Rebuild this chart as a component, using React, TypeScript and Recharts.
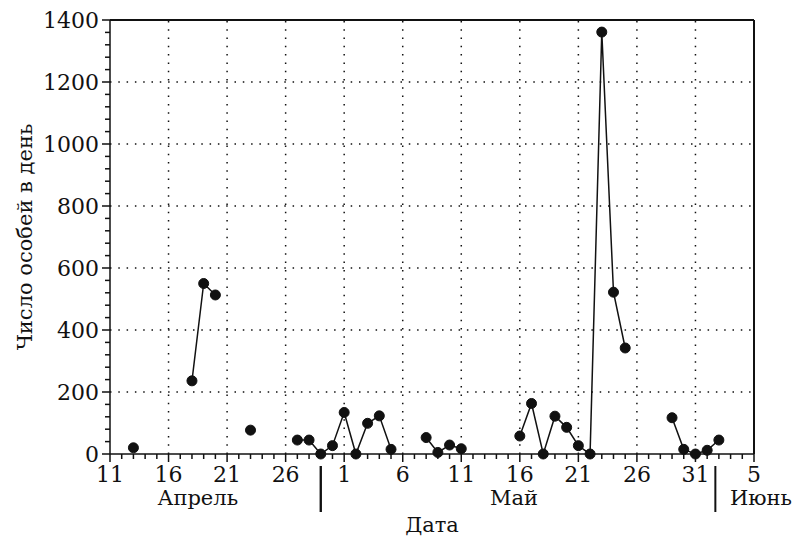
import { LineChart, Line, XAxis, YAxis, ReferenceLine } from 'recharts';

// day index counts from 11 April (0) to 5 June (55)
const obsDay = [2, 7, 8, 9, 12, 16, 17, 18, 19, 20, 21, 22, 23, 24, 27, 28, 29, 30, 35, 36, 37, 38, 39, 40, 41, 42, 43, 44, 48, 49, 50, 51, 52];
const obsCount = [20, 236, 550, 513, 77, 45, 45, 0, 27, 134, 0, 99, 123, 15, 53, 5, 29, 17, 58, 163, 0, 122, 86, 27, 0, 1361, 522, 342, 117, 15, 0, 12, 45];

const lastDay = 55;
const majorDays = [0, 5, 10, 15, 20, 25, 30, 35, 40, 45, 50, 55];
const majorLabels = ['11', '16', '21', '26', '1', '6', '11', '16', '21', '26', '31', '5'];
const gridDays = [5, 10, 15, 20, 25, 30, 35, 40, 45, 50];

const monthAt = [7.5, 34.5, 55.6];
const monthNames = ['Апрель', 'Май', 'Июнь'];
const separatorAt = [18, 51.7];

const yMajor = [0, 200, 400, 600, 800, 1000, 1200, 1400];
const yGrid = [200, 400, 600, 800, 1000, 1200];
const yStep = 40;

const allDays = Array.from({ length: lastDay + 1 }, (_, i) => i);
const data = allDays.map((d) => {
  const k = obsDay.indexOf(d);
  return { day: d, count: k >= 0 ? obsCount[k] : null };
});

const xTicks = [...allDays, ...separatorAt, ...monthAt];
const yTicks = Array.from({ length: 1400 / yStep + 1 }, (_, i) => i * yStep);

const FONT = 'DejaVu Serif';
const FS = 22;
const INK = '#111';

function DayTick(props: any) {
  const { x, y, payload } = props;
  const v = payload.value;
  const m = monthAt.indexOf(v);
  if (m >= 0) {
    return (
      <text x={x} y={y + 51} textAnchor="middle" style={{ fontFamily: FONT, fontSize: FS - 1 }} fill={INK}>
        {monthNames[m]}
      </text>
    );
  }
  if (separatorAt.includes(v)) {
    return <line x1={x} x2={x} y1={y + 12} y2={y + 58} stroke={INK} strokeWidth={2} />;
  }
  const j = majorDays.indexOf(v);
  if (j >= 0) {
    return (
      <g>
        <line x1={x} x2={x} y1={y} y2={y + 8} stroke={INK} strokeWidth={1.5} />
        <text x={x} y={y + 28} textAnchor="middle" style={{ fontFamily: FONT, fontSize: FS }} fill={INK}>
          {majorLabels[j]}
        </text>
      </g>
    );
  }
  return <line x1={x} x2={x} y1={y} y2={y + 5} stroke={INK} strokeWidth={1.5} />;
}

function CountTick(props: any) {
  const { x, y, payload } = props;
  const v = payload.value;
  if (yMajor.includes(v)) {
    return (
      <g>
        <line x1={x - 8} x2={x} y1={y} y2={y} stroke={INK} strokeWidth={1.5} />
        <text x={x - 11} y={y + 8} textAnchor="end" style={{ fontFamily: FONT, fontSize: FS }} fill={INK}>
          {v}
        </text>
      </g>
    );
  }
  return <line x1={x - 5} x2={x} y1={y} y2={y} stroke={INK} strokeWidth={1.5} />;
}

export default function App() {
  return (
    <div style={{ position: 'absolute', left: 0, top: 0, width: 795, height: 540, background: '#fff' }}>
      <LineChart width={795} height={540} data={data} margin={{ top: 20, right: 41, bottom: 0, left: 0 }}>
        {gridDays.map((d) => (
          <ReferenceLine key={'gx' + d} x={d} stroke={INK} strokeWidth={1.5} strokeDasharray="1.5 6.8" />
        ))}
        {yGrid.map((v) => (
          <ReferenceLine key={'gy' + v} y={v} stroke={INK} strokeWidth={1.5} strokeDasharray="1.5 6.8" />
        ))}
        <ReferenceLine y={1400} stroke={INK} strokeWidth={2} />
        <ReferenceLine x={lastDay} stroke={INK} strokeWidth={2} />
        <XAxis
          dataKey="day"
          type="number"
          domain={[0, lastDay]}
          ticks={xTicks}
          interval={0}
          tick={<DayTick />}
          tickLine={false}
          tickSize={0}
          tickMargin={0}
          height={86}
          axisLine={{ stroke: INK, strokeWidth: 1.5 }}
          allowDataOverflow
          label={{ value: 'Дата', position: 'center', dy: 28, style: { fontFamily: FONT, fontSize: FS - 1 }, fill: INK }}
        />
        <YAxis
          type="number"
          domain={[0, 1400]}
          ticks={yTicks}
          interval={0}
          tick={<CountTick />}
          tickLine={false}
          tickSize={0}
          tickMargin={0}
          width={110}
          axisLine={{ stroke: INK, strokeWidth: 1.5 }}
          label={{ value: 'Число особей в день', angle: -90, position: 'center', dx: -30, style: { fontFamily: FONT, fontSize: FS - 1 }, fill: INK }}
        />
        <Line
          type="linear"
          dataKey="count"
          stroke={INK}
          strokeWidth={1.5}
          dot={{ r: 5, fill: INK, stroke: INK, strokeWidth: 1 }}
          activeDot={false}
          connectNulls={false}
          isAnimationActive={false}
        />
      </LineChart>
    </div>
  );
}
